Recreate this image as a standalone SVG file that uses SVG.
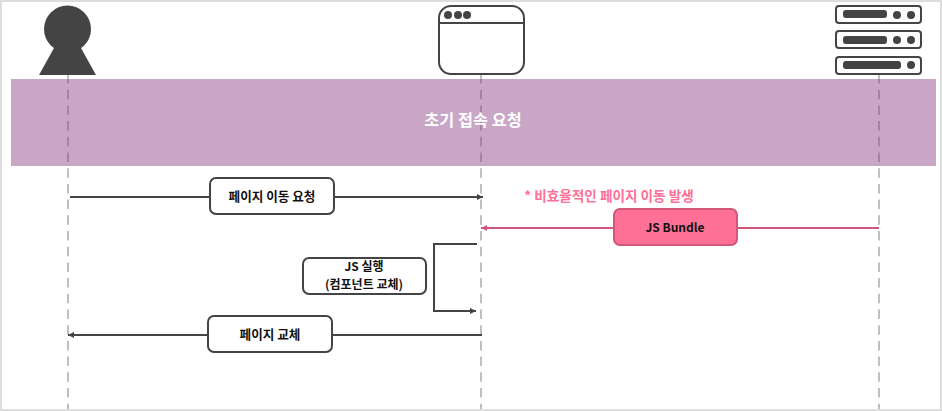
<svg xmlns="http://www.w3.org/2000/svg" width="942" height="411" viewBox="0 0 942 411">
<style>
text{font-family:"Noto Sans CJK KR","Noto Sans",sans-serif;font-weight:700;font-size:12.6px;text-anchor:middle;fill:#111}
.life{stroke:#c0c0c0;stroke-width:2;stroke-dasharray:9.500 6.200;fill:none}
.c{stroke:#444;stroke-width:2;fill:none}
.box{fill:#fff;stroke:#444;stroke-width:2}
.ic{fill:#444}
.o{fill:#fff;stroke:#444;stroke-width:2}
</style>
<defs>
<marker id="a" markerWidth="7" markerHeight="6" refX="6" refY="3" orient="auto" markerUnits="userSpaceOnUse"><path d="M0 0L6 3L0 6z" fill="#444"/></marker>
<marker id="p" markerWidth="7" markerHeight="6" refX="6" refY="3" orient="auto" markerUnits="userSpaceOnUse"><path d="M0 0L6 3L0 6z" fill="#d1567a"/></marker>
</defs>
<rect x="1" y="1" width="940" height="409" fill="#fff" stroke="#ddd" stroke-width="2"/>
<g id="lifelines">
<path class="life" d="M68 74V409"/>
<path class="life" d="M481 74V409"/>
<path class="life" d="M879 74V409"/>
</g>
<rect id="band" x="11" y="79" width="925" height="87" fill="#873980" fill-opacity=".45"/>
<text x="473" y="126" style="font-size:16.300px;fill:#fff">초기 접속 요청</text>
<g id="connectors">
<path class="c" d="M70 197H483" marker-end="url(#a)"/>
<path d="M879 228H481" fill="none" stroke="#d1567a" stroke-width="2" marker-end="url(#p)"/>
<path class="c" d="M477 244H434V311H476" marker-end="url(#a)"/>
<path class="c" d="M482 335H68" marker-end="url(#a)"/>
</g>
<g id="user"><circle class="ic" cx="67.500" cy="29" r="23.500"/><path class="ic" d="M54 48H81L96 75H39z"/></g>
<g id="browser">
<rect x="439" y="6" width="85" height="68" rx="12" fill="#fff" stroke="#444" stroke-width="2"/>
<path class="c" d="M439 23H524"/>
<circle class="ic" cx="448" cy="15" r="4"/><circle class="ic" cx="458" cy="15" r="4"/><circle class="ic" cx="467" cy="15" r="4"/>
</g>
<g id="server">
<rect class="o" x="836" y="6" width="85" height="17" rx="3"/><rect class="ic" x="843" y="10" width="44" height="8" rx="3"/><circle class="ic" cx="897" cy="15" r="4"/><circle class="ic" cx="911" cy="15" r="4"/>
<rect class="o" x="836" y="31" width="85" height="17" rx="3"/><rect class="ic" x="843" y="36" width="44" height="8" rx="3"/><circle class="ic" cx="897" cy="40" r="4"/><circle class="ic" cx="911" cy="40" r="4"/>
<rect class="o" x="836" y="57" width="85" height="17" rx="3"/><rect class="ic" x="843" y="61" width="58" height="8" rx="3"/><circle class="ic" cx="911" cy="65" r="4"/>
</g>
<g id="n1"><rect class="box" x="210" y="178" width="124" height="36" rx="6"/><text x="272" y="201">페이지 이동 요청</text></g>
<text x="609" y="201" style="font-size:13.600px;fill:#ff7096">* 비효율적인 페이지 이동 발생</text>
<g id="n2"><rect x="614" y="209" width="123" height="36" rx="6" fill="#ff7096" stroke="#d1567a" stroke-width="2"/><text x="675" y="232" style="font-size:12px">JS Bundle</text></g>
<g id="n3"><rect class="box" x="303" y="258" width="123" height="36" rx="6"/><text x="364" y="271" style="font-size:12px">JS 실행</text><text x="364" y="289" style="font-size:12px">(컴포넌트 교체)</text></g>
<g id="n4"><rect class="box" x="208" y="316" width="124" height="36" rx="6"/><text x="270" y="339">페이지 교체</text></g>
</svg>
